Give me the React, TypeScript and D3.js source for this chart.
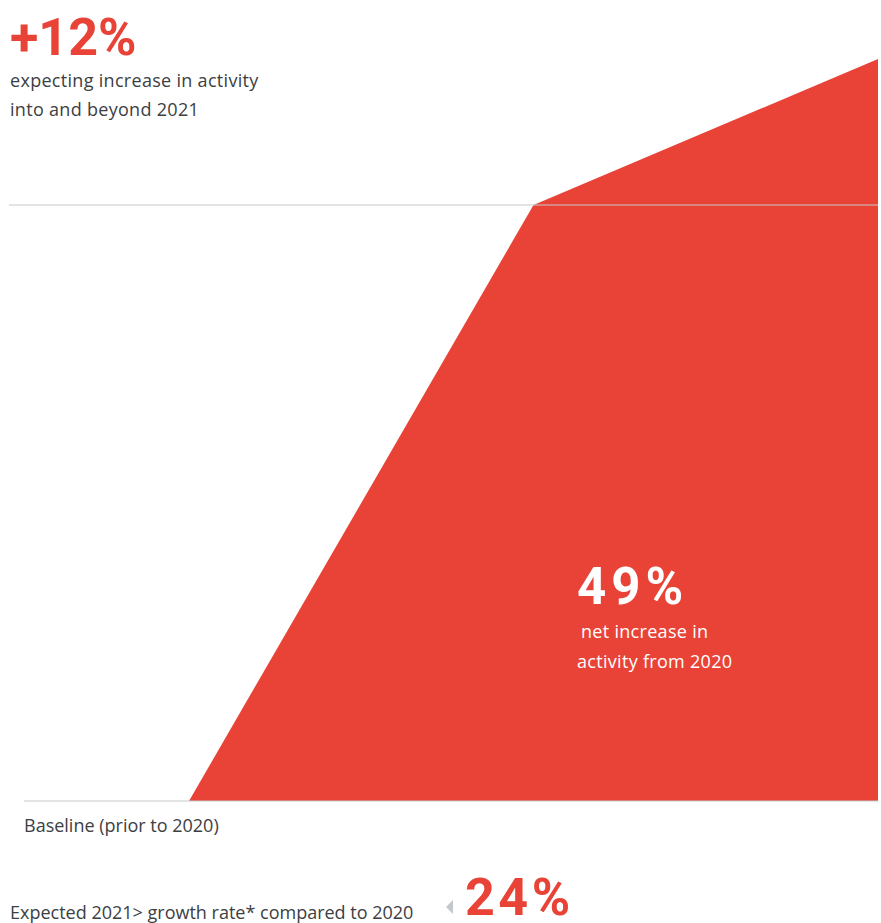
import React from "react";
import * as d3 from "d3";

const stages = ["Baseline (prior to 2020)", "2020", "2021+"];
const activity = [0, 49, 61];
const gridValues = [0, 49];

const W = 881;
const H = 923;
const RED = "#E84336";
const TEXT = "#3c4043";
const BIG = "Roboto, sans-serif";
const BODY = "'Open Sans', Roboto, sans-serif";

export default function App() {
  const x = d3.scalePoint<string>().domain(stages).range([189, 878]);
  const y = d3.scaleLinear().domain([0, 49]).range([801, 205]);
  const data = stages.map((s, i) => ({ s, v: activity[i] }));
  const area = d3
    .area<{ s: string; v: number }>()
    .x((d) => x(d.s) as number)
    .y0(y(0))
    .y1((d) => y(d.v));

  return (
    <svg
      width={W}
      height={H}
      style={{ position: "absolute", left: 0, top: 0, background: "#fff" }}
      fontFamily={BODY}
    >
      <path d={area(data) || ""} fill={RED} />
      {gridValues.map((g, i) => (
        <line
          key={i}
          x1={g === 0 ? 24 : 9}
          x2={878}
          y1={y(g)}
          y2={y(g)}
          stroke="#c8cacd"
          strokeWidth={1.2}
        />
      ))}
      <text x={10} y={55} fill={RED} fontSize={52} fontWeight={700} fontFamily={BIG}>
        +12%
      </text>
      <text x={10} y={87} fill={TEXT} fontSize={18} letterSpacing={0.3}>
        expecting increase in activity
      </text>
      <text x={10} y={116} fill={TEXT} fontSize={18} letterSpacing={0.3}>
        into and beyond 2021
      </text>

      <text x={577} y={604} fill="#fff" fontSize={51} fontWeight={700} letterSpacing={5} fontFamily={BIG}>
        49%
      </text>
      <text x={581} y={638} fill="#fff" fontSize={18} letterSpacing={0.3}>
        net increase in
      </text>
      <text x={577} y={668} fill="#fff" fontSize={18} letterSpacing={0.3}>
        activity from 2020
      </text>

      <text x={24} y={832} fill={TEXT} fontSize={18}>
        {stages[0]}
      </text>

      <text x={10} y={919} fill={TEXT} fontSize={18}>
        Expected 2021&gt; growth rate* compared to 2020
      </text>
      <path d="M446,907 L453,900 L453,914 Z" fill="#c4c7cb" />
      <text x={465} y={915} fill={RED} fontSize={52} fontWeight={700} letterSpacing={3.5} fontFamily={BIG}>
        24%
      </text>
    </svg>
  );
}
